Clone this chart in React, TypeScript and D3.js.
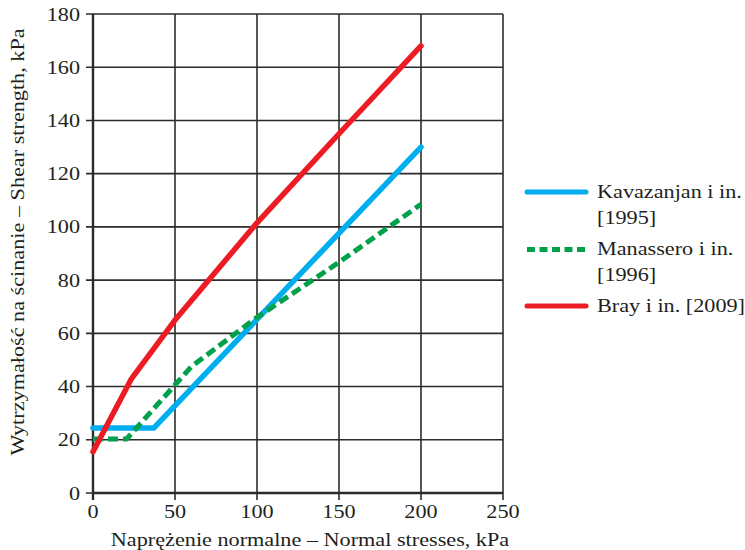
import * as d3 from "d3";
import React from "react";

// series (normal stress kPa, shear strength kPa)
const kavazanjan: [number, number][] = [[0, 24.4], [37, 24.4], [200, 130]];
const manassero: [number, number][] = [[0, 20.3], [20.5, 20.3], [60, 47.5], [100, 66], [150, 86.7], [200, 108.5]];
const bray: [number, number][] = [[0, 15.5], [23.5, 43], [50, 65], [100, 101.5], [150, 135], [200, 168]];

const xTicks = [0, 50, 100, 150, 200, 250];
const yTicks = [0, 20, 40, 60, 80, 100, 120, 140, 160, 180];

const series = [
  { name: ["Kavazanjan i in.", "[1995]"], data: kavazanjan, color: "#00aeef", dash: null },
  { name: ["Manassero i in.", "[1996]"], data: manassero, color: "#00a14b", dash: "10,5" },
  { name: ["Bray i in. [2009]"], data: bray, color: "#ed1c24", dash: null },
];

const grid = "#2b2b2b";
const ink = "#231f20";

// the reference typeface is wider than Liberation Serif, so stretch glyphs horizontally
function T(props: { x: number; y: number; rotate?: number; anchor?: string; children: React.ReactNode }) {
  const { x, y, rotate = 0, anchor = "start", children } = props;
  return (
    <text transform={`translate(${x},${y}) rotate(${rotate}) scale(1.17,1)`} textAnchor={anchor}
      style={{ fontFamily: "Liberation Serif", fontSize: 19 }} fill={ink}>
      {children}
    </text>
  );
}

export default function App() {
  const width = 745;
  const height = 550;
  const x = d3.scaleLinear().domain([0, 250]).range([93, 503]);
  const y = d3.scaleLinear().domain([0, 180]).range([493, 14]);
  const line = d3.line<[number, number]>().x(d => x(d[0])).y(d => y(d[1]));

  const legendY = [192, 249.5, 306];

  return (
    <svg width={width} height={height} style={{ position: "absolute", left: 0, top: 0 }}>
      <rect width={width} height={height} fill="#fff" />
      {/* horizontal grid + left ticks */}
      {yTicks.map(t => (
        <g key={"y" + t}>
          <line x1={86} x2={x(250)} y1={y(t)} y2={y(t)} stroke={grid} strokeWidth={1.6} />
          <T x={80} y={y(t) + 6.5} anchor="end">{t}</T>
        </g>
      ))}
      {/* vertical grid + bottom ticks */}
      {xTicks.map(t => (
        <g key={"x" + t}>
          <line x1={x(t)} x2={x(t)} y1={y(180)} y2={500} stroke={grid} strokeWidth={t === 0 ? 2.4 : 1.6} />
          <T x={x(t)} y={518} anchor="middle">{t}</T>
        </g>
      ))}
      <line x1={x(0)} x2={x(250)} y1={y(0)} y2={y(0)} stroke={grid} strokeWidth={2.4} />

      {series.map(s => (
        <path key={s.name[0]} d={line(s.data) || ""} fill="none" stroke={s.color}
          strokeWidth={s.dash ? 5 : 5.5} strokeLinecap={s.dash ? "butt" : "round"} strokeLinejoin="round"
          strokeDasharray={s.dash || undefined} />
      ))}

      {/* legend */}
      {series.map((s, i) => (
        <g key={"lg" + i}>
          <line x1={527} x2={586} y1={legendY[i]} y2={legendY[i]} stroke={s.color} strokeWidth={5}
            strokeLinecap={s.dash ? "butt" : "round"} strokeDasharray={s.dash ? "8,4.5" : undefined} />
          {s.name.map((n, j) => (
            <T key={n} x={597} y={legendY[i] + 5.5 + j * 26}>{n}</T>
          ))}
        </g>
      ))}

      <T x={310} y={546} anchor="middle">Naprężenie normalne – Normal stresses, kPa</T>
      <T x={24} y={242} rotate={-90} anchor="middle">Wytrzymałość na ścinanie – Shear strength, kPa</T>
    </svg>
  );
}
